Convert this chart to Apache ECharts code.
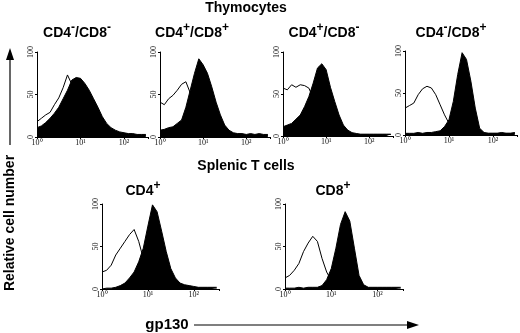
<!DOCTYPE html>
<html>
<head>
<meta charset="utf-8">
<script src="https://cdn.jsdelivr.net/npm/echarts@6/dist/echarts.min.js"></script>
<style>html,body{margin:0;padding:0;background:#fff}#c{width:520px;height:333px}</style>
</head>
<body>
<div id="c"></div>
<script>
// log10 fluorescence positions (decades)
const logX = [0,0.1,0.2,0.3,0.4,0.5,0.6,0.7,0.8,0.9,1.0,1.1,1.2,1.3,1.4,1.5,1.6,1.7,1.8,1.9,2.0,2.1,2.2,2.3,2.4,2.5];
const xTickLabels = {0:'10\u2070', 1:'10\u00b9', 2:'10\u00b2'};
// panel titles as [text, superscript] fragments
const panelTitles = [
  [['CD4','-'],['/CD8','-']],
  [['CD4','+'],['/CD8','+']],
  [['CD4','+'],['/CD8','-']],
  [['CD4','-'],['/CD8','+']],
  [['CD4','+']],
  [['CD8','+']]
];

// stained (filled) histograms
const fillDN   = [11,13,17,22,28,35,45,55,67,70,69,63,55,45,35,24,16,11,8,6,5,4,4,3,3,3];
const fillDP   = [8,9,11,12,16,20,35,55,75,92,85,75,59,41,26,14,8,5,4,4,3,4,3,4,3,3];
const fillCD4s = [11,13,15,20,25,35,47,63,81,86,79,58,41,25,13,7,4,3,2,2,2,2,2,2,2,2];
const fillCD8s = [2,2,2,3,2,3,3,4,5,10,18,40,72,98,90,64,32,8,3,2,2,2,3,2,2,3];
const fillSpCD4 = [0,1,1,2,4,7,13,20,32,48,74,99,91,68,44,24,13,7,5,4,3,2,2,2,2,2];
const fillSpCD8 = [1,1,1,2,1,2,2,2,4,11,24,48,76,91,80,48,16,5,2,2,2,2,2,2,2,2];

// control (open) histograms
const ctrlDN   = [18,22,26,29,38,46,58,73,62,50,38,26,17,11,7,5,4,3,2,2,2,2,2,2,2,2];
const ctrlDP   = [41,38,45,49,55,62,65,52,45,30,20,12,7,4,3,2,2,2,2,2,2,2,2,2,2,2];
const ctrlCD4s = [57,55,61,58,61,60,57,45,30,18,10,6,4,3,2,2,2,2,2,2,2,2,2,2,2,2];
const ctrlCD8s = [32,35,38,48,55,58,56,48,36,24,14,6,3,2,2,2,2,2,2,2,2,2,2,2,2,2];
const ctrlSpCD4 = [20,22,28,40,48,56,64,70,56,36,18,8,4,2,2,2,2,1,1,1,1,1,1,1,1,1];
const ctrlSpCD8 = [13,16,22,30,44,54,62,56,36,20,10,4,2,1,1,1,1,1,1,1,1,1,1,1,1,1];

const fills = [fillDN, fillDP, fillCD4s, fillCD8s, fillSpCD4, fillSpCD8];
const ctrls = [ctrlDN, ctrlDP, ctrlCD4s, ctrlCD8s, ctrlSpCD4, ctrlSpCD8];

const grids = [
  {left:37, top:52, width:111, height:85},
  {left:160, top:52, width:110, height:85},
  {left:283, top:52, width:110, height:84},
  {left:405, top:51, width:112, height:84},
  {left:102, top:204, width:117, height:85},
  {left:285, top:204, width:118, height:85}
];
const titlePos = [[77,31],[192,31],[324,31],[451,31],[143,189],[333,189]];

const pair = (ys) => logX.map((x,i)=>[x, ys[i]]);

const xAxes = grids.map((g,i)=>({
  type:'value', gridIndex:i, min:0, max:2.55, interval:1,
  axisLine:{show:true, onZero:false, lineStyle:{color:'#000', width:1}},
  axisTick:{show:true, length:2, lineStyle:{color:'#000'}},
  splitLine:{show:false},
  axisLabel:{fontSize:8, color:'#111', fontFamily:'Liberation Serif', margin:2,
    formatter:(v)=> xTickLabels[v] !== undefined ? xTickLabels[v] : ''}
}));
const yAxes = grids.map((g,i)=>({
  type:'value', gridIndex:i, min:0, max:100, interval:50,
  axisLine:{show:true, lineStyle:{color:'#000', width:1}},
  axisTick:{show:true, length:2, lineStyle:{color:'#000'}},
  splitLine:{show:false},
  axisLabel:{fontSize:8, color:'#111', fontFamily:'Liberation Serif', rotate:90, margin:2}
}));

const series = [];
fills.forEach((f,i)=>{
  series.push({type:'line', xAxisIndex:i, yAxisIndex:i, data:pair(ctrls[i]), symbol:'none',
    lineStyle:{color:'#000', width:1}, z:2, silent:true});
  series.push({type:'line', xAxisIndex:i, yAxisIndex:i, data:pair(f), symbol:'none',
    lineStyle:{color:'#000', width:1}, areaStyle:{color:'#000', opacity:1}, z:3, silent:true});
});

const titleFont = {fontFamily:'Liberation Sans', fontWeight:'bold', fontSize:14, fill:'#000'};
const graphic = [
  {type:'text', x:246, y:8, style:Object.assign({text:'Thymocytes', textAlign:'center', textVerticalAlign:'middle'}, titleFont)},
  {type:'text', x:246, y:166, style:Object.assign({text:'Splenic T cells', textAlign:'center', textVerticalAlign:'middle'}, titleFont)},
  {type:'text', x:167, y:325, style:Object.assign({text:'gp130', textAlign:'center', textVerticalAlign:'middle'}, titleFont, {fontSize:15})},
  {type:'line', shape:{x1:194, y1:325, x2:410, y2:325}, style:{stroke:'#000', lineWidth:1.2}},
  {type:'polygon', shape:{points:[[419,325],[407,321],[407,329]]}, style:{fill:'#000'}},
  {type:'line', shape:{x1:10, y1:145, x2:10, y2:58}, style:{stroke:'#000', lineWidth:1.2}},
  {type:'polygon', shape:{points:[[10,48],[6,60],[14,60]]}, style:{fill:'#000'}},
  {type:'text', x:10, y:223, rotation:Math.PI/2, style:Object.assign({text:'Relative cell number', textAlign:'center', textVerticalAlign:'middle'}, titleFont)}
];
const richStyle = {
  m:{fontFamily:'Liberation Sans', fontWeight:'bold', fontSize:14, lineHeight:18, verticalAlign:'bottom', fill:'#000'},
  s:{fontFamily:'Liberation Sans', fontWeight:'bold', fontSize:12, lineHeight:18, verticalAlign:'top', fill:'#000'}
};
panelTitles.forEach((frags,i)=>{
  const txt = frags.map(f=>'{m|'+f[0]+'}{s|'+f[1]+'}').join('');
  graphic.push({type:'text', x:titlePos[i][0], y:titlePos[i][1],
    style:{text:txt, rich:richStyle, textAlign:'center', textVerticalAlign:'middle', fontFamily:'Liberation Sans', fontWeight:'bold', fontSize:14}});
});

const chart = echarts.init(document.getElementById('c'), null, {renderer:'canvas'});
chart.setOption({
  animation:false,
  backgroundColor:'#fff',
  grid:grids,
  xAxis:xAxes,
  yAxis:yAxes,
  series:series,
  graphic:graphic
});
</script>
</body>
</html>
